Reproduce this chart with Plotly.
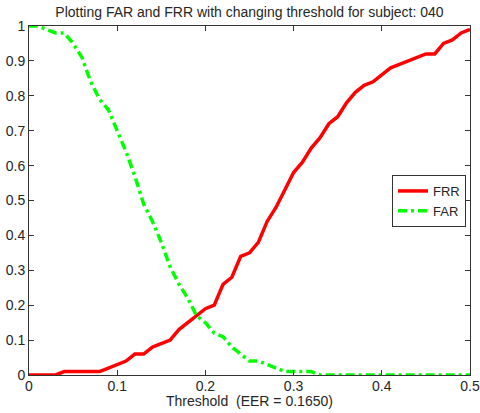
import plotly.graph_objects as go

thresholds = [round(i * 0.01, 2) for i in range(51)]

frr = [0.00, 0.00, 0.00, 0.00, 0.01, 0.01, 0.01, 0.01, 0.01, 0.02,
       0.03, 0.04, 0.06, 0.06, 0.08, 0.09, 0.10, 0.13, 0.15, 0.17,
       0.19, 0.20, 0.26, 0.28, 0.34, 0.35, 0.38, 0.44, 0.48, 0.53,
       0.58, 0.61, 0.65, 0.68, 0.72, 0.74, 0.78, 0.81, 0.83, 0.84,
       0.86, 0.88, 0.89, 0.90, 0.91, 0.92, 0.92, 0.95, 0.96, 0.98,
       0.99]

far = [1.00, 1.00, 0.99, 0.98, 0.98, 0.95, 0.91, 0.84, 0.79, 0.76,
       0.70, 0.64, 0.57, 0.49, 0.44, 0.38, 0.31, 0.26, 0.22, 0.17,
       0.15, 0.12, 0.11, 0.08, 0.06, 0.04, 0.04, 0.03, 0.02, 0.01,
       0.01, 0.01, 0.01, 0.00, 0.00, 0.00, 0.00, 0.00, 0.00, 0.00,
       0.00, 0.00, 0.00, 0.00, 0.00, 0.00, 0.00, 0.00, 0.00, 0.00,
       0.00]

x_ticks = [0, 0.1, 0.2, 0.3, 0.4, 0.5]
y_ticks = [0, 0.1, 0.2, 0.3, 0.4, 0.5, 0.6, 0.7, 0.8, 0.9, 1]

title_text = "Plotting FAR and FRR with changing threshold for subject: 040"
xlabel_text = "Threshold  (EER = 0.1650)"

font_family = "Liberation Sans, Arial, Helvetica, sans-serif"
text_color = "#262626"

fig = go.Figure()
fig.add_trace(go.Scatter(x=thresholds, y=frr, mode="lines", name="FRR",
                         line=dict(color="#ff0000", width=3.5)))
fig.add_trace(go.Scatter(x=thresholds, y=far, mode="lines", name="FAR",
                         line=dict(color="#00ff00", width=3.5,
                                   dash="9px,4px,3px,4px")))

axis_common = dict(
    showgrid=False, zeroline=False, showline=True, linecolor="#333333",
    linewidth=1, mirror="ticks", ticks="inside", ticklen=5,
    tickcolor="#333333", tickfont=dict(size=14, color=text_color),
)

fig.update_layout(
    width=480, height=413,
    margin=dict(l=29, r=10, t=26, b=38, autoexpand=False),
    paper_bgcolor="white", plot_bgcolor="white",
    font=dict(family=font_family, size=14, color=text_color),
    title=dict(text=title_text, xref="paper", x=0.5, xanchor="center",
               yref="container", y=0.983, yanchor="top",
               font=dict(size=14, color=text_color)),
    xaxis=dict(range=[0, 0.5], tickvals=x_ticks,
               ticktext=[str(v) for v in x_ticks],
               ticklabelstandoff=-2,
               **axis_common),
    yaxis=dict(range=[0, 1], tickvals=y_ticks,
               ticktext=[str(v) for v in y_ticks], **axis_common),
    legend=dict(x=0.991, y=0.4986, xanchor="right", yanchor="middle",
                bgcolor="white", bordercolor="#333333", borderwidth=1,
                font=dict(size=13, color=text_color),
                tracegroupgap=0, itemwidth=30),
    showlegend=True,
    annotations=[dict(text=xlabel_text, xref="paper", yref="paper",
                      x=0.5, y=0, xanchor="center", yanchor="top",
                      yshift=-16, showarrow=False,
                      font=dict(size=14, color=text_color))],
)

fig.write_html("out.html",
               config={"displayModeBar": False},
               post_script="document.body.style.margin='0px';")
